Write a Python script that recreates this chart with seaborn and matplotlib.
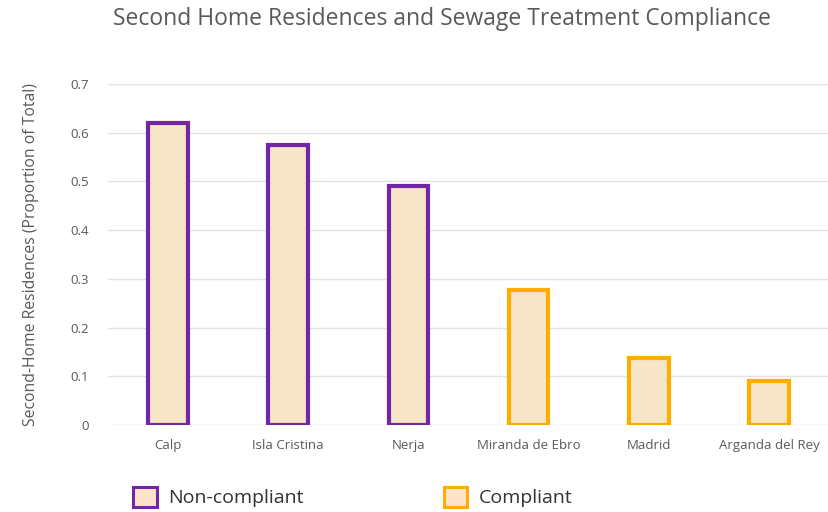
import matplotlib
matplotlib.use("Agg")
import matplotlib.pyplot as plt
from matplotlib.patches import Patch
import seaborn as sns
import pandas as pd

cities = ["Calp", "Isla Cristina", "Nerja", "Miranda de Ebro", "Madrid", "Arganda del Rey"]
second_home_share = [0.62, 0.575, 0.49, 0.277, 0.137, 0.09]
status = ["Non-compliant", "Non-compliant", "Non-compliant", "Compliant", "Compliant", "Compliant"]
y_ticks = [0, 0.1, 0.2, 0.3, 0.4, 0.5, 0.6, 0.7]
y_tick_labels = ["0", "0.1", "0.2", "0.3", "0.4", "0.5", "0.6", "0.7"]

edge_colors = {"Non-compliant": "#7026A6", "Compliant": "#FFAD00"}
fill_color = "#F7E5C8"
text_gray = "#595959"

sns.set_theme(style="white")
plt.rcParams["font.family"] = ["Open Sans", "DejaVu Sans"]

df = pd.DataFrame({"city": cities, "share": second_home_share, "status": status})

fig = plt.figure(figsize=(8.29, 5.12), dpi=100)
ax = fig.add_axes([108 / 829, (512 - 425) / 512, (829 - 108) / 829, (425 - 84) / 512])

sns.barplot(data=df, x="city", y="share", color=fill_color, width=0.33,
            saturation=1, ax=ax, zorder=3)
for bar, st in zip(ax.patches, df["status"]):
    bar.set_edgecolor(edge_colors[st])
    bar.set_linewidth(3.0)
    bar.set_facecolor(fill_color)

ax.set_ylim(0, 0.7)
ax.set_xlim(-0.5, 5.5)
ax.set_yticks(y_ticks)
ax.set_yticklabels(y_tick_labels)
ax.yaxis.grid(True, color="#E3E3E3", linewidth=1.0, zorder=0)
ax.set_axisbelow(True)
for s in ax.spines.values():
    s.set_visible(False)
ax.tick_params(axis="both", length=0, labelsize=9.5, labelcolor=text_gray)
ax.tick_params(axis="y", pad=14)
ax.tick_params(axis="x", pad=10)
ax.set_xlabel("")
ax.set_ylabel("Second-Home Residences (Proportion of Total)", fontsize=11.3, color=text_gray,
              labelpad=22)

fig.text(442 / 829, 1 - 19 / 512, "Second Home Residences and Sewage Treatment Compliance",
         ha="center", va="center", fontsize=16.5, color=text_gray)

handles = [Patch(facecolor="#FDE3C9", edgecolor=edge_colors[k], linewidth=2.2, label=k)
           for k in ["Non-compliant", "Compliant"]]
leg = fig.legend(handles=handles, loc="center left", bbox_to_anchor=(116 / 829, 1 - 497 / 512),
                 ncol=2, frameon=False, fontsize=14, handlelength=1.2, handleheight=1.2,
                 columnspacing=7.2, handletextpad=0.6)
for t in leg.get_texts():
    t.set_color("#333333")

fig.savefig("out.png", dpi=100)
